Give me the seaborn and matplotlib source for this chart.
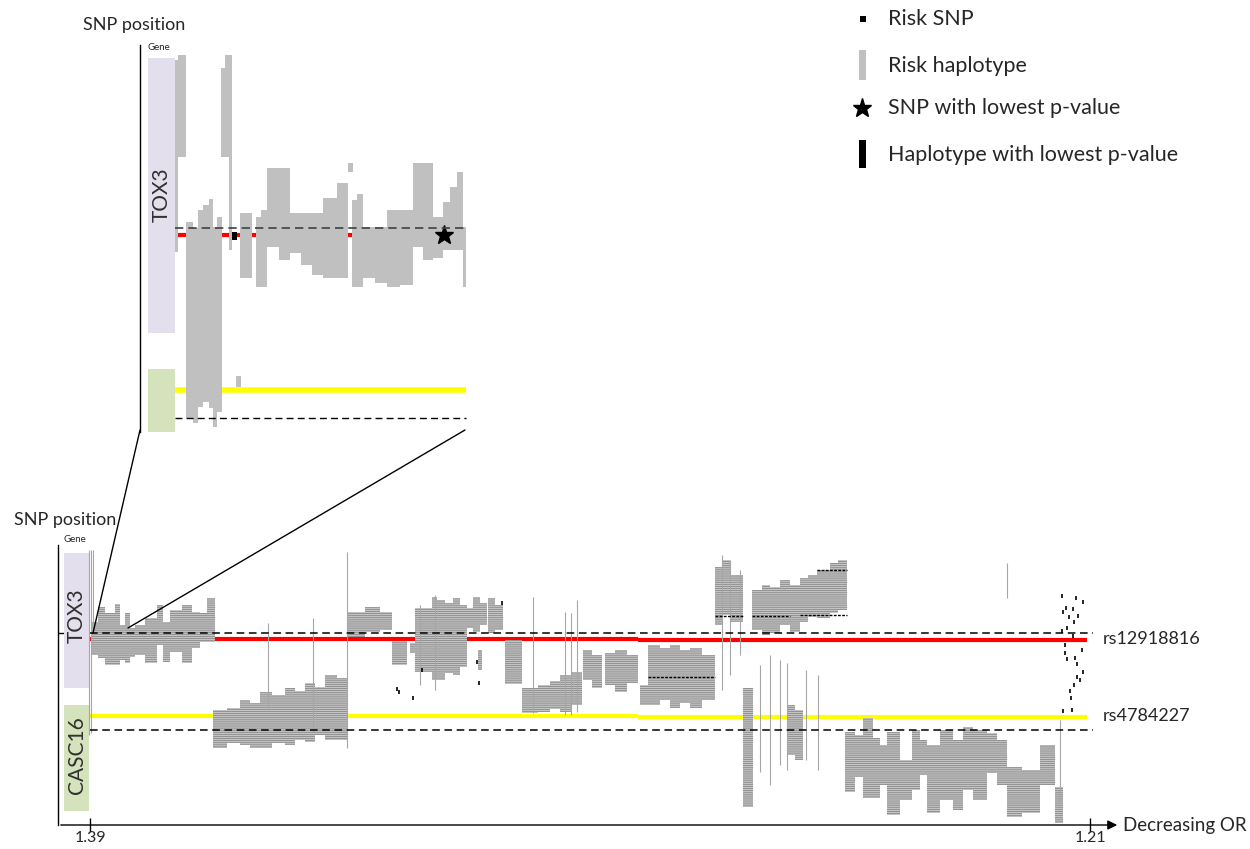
import numpy as np
import pandas as pd
import matplotlib
matplotlib.use('Agg')
import matplotlib.pyplot as plt
import seaborn as sns
from matplotlib.patches import Rectangle, ConnectionPatch

sns.set_theme(style='white')
plt.rcParams['font.family'] = ['Lato', 'DejaVu Sans']
plt.rcParams['hatch.linewidth'] = 0.6

# ---- main panel: haplotype blocks (rank of OR, SNP position range) ----
hap_x0 = [2, 8, 15, 25, 30, 35, 40, 45, 55, 67, 73, 80, 92, 102, 110, 117,
          123, 137, 150, 160, 170, 182, 195, 205, 215, 225, 235, 247,
          257, 275, 290, 302, 320, 325, 342, 347, 355, 363, 370, 377, 383, 390, 388, 398, 405,
          415, 432, 448, 460, 470, 481, 493, 502, 515, 525, 537, 550, 558, 570, 580, 590, 600, 612,
          625, 632, 640, 653, 662, 672, 680, 690, 700, 710, 718, 727, 740, 748, 698, 705,
          755, 765, 773, 783, 790, 797, 810, 822, 830, 837, 850, 863, 873, 883, 897, 907,
          917, 932, 950, 965]
hap_x1 = [8, 15, 25, 30, 35, 40, 45, 55, 67, 73, 80, 92, 102, 110, 117, 125,
          137, 150, 160, 170, 182, 195, 205, 215, 225, 235, 247, 257,
          275, 290, 302, 317, 325, 342, 347, 355, 363, 370, 377, 383, 390, 397, 392, 405, 413,
          432, 448, 460, 470, 481, 492, 502, 512, 525, 537, 548, 558, 570, 580, 590, 600, 612, 625,
          632, 640, 653, 663, 672, 680, 690, 700, 710, 718, 727, 740, 748, 757, 705, 713,
          765, 773, 783, 790, 797, 810, 822, 830, 837, 850, 863, 873, 883, 897, 907, 917,
          932, 950, 965, 973]
hap_top = [77, 62, 68, 59, 80, 68, 83, 80, 73, 60, 77, 65, 60, 67, 68, 53,
           165, 163, 155, 158, 147, 150, 143, 146, 138, 142, 130, 133,
           67, 62, 67, 96, 98, 63, 52, 55, 58, 53, 60, 63, 52, 58, 105, 53, 60,
           95, 143, 140, 136, 130, 127, 105, 110, 108, 105, 110, 140, 100, 103, 100, 105, 103, 110,
           22, 15, 30, 143, 45, 40, 42, 35, 40, 33, 30, 25, 18, 15, 160, 165,
           187, 190, 173, 193, 200, 187, 215, 185, 195, 200, 185, 195, 182, 185, 188, 195,
           222, 225, 200, 242]
hap_bot = [110, 113, 120, 120, 115, 118, 112, 110, 118, 100, 117, 107, 118, 103, 97, 97,
           203, 198, 200, 203, 203, 198, 200, 195, 197, 190, 195, 195,
           92, 87, 85, 120, 108, 127, 135, 135, 128, 130, 122, 83, 87, 80, 125, 88, 85,
           139, 168, 167, 164, 167, 160, 135, 143, 140, 147, 138, 160, 160, 155, 163, 158, 163, 155,
           80, 70, 77, 262, 85, 90, 88, 80, 87, 77, 72, 73, 68, 65, 210, 215,
           247, 232, 253, 253, 240, 270, 255, 245, 230, 268, 255, 265, 245, 255, 228, 240,
           272, 268, 240, 278]

# single long haplotypes drawn as thin lines
thin_x = [-1, 1, 3, 178, 223, 257, 330, 345, 443, 475, 481, 487, 632, 640, 650,
          670, 680, 690, 697, 716, 728, 917, 970]
thin_top = [5, 5, 5, 78, 73, 7, 60, 50, 52, 67, 68, 55, 10, 15, 25,
            120, 110, 115, 118, 125, 130, 18, 175]
thin_bot = [190, 188, 90, 163, 187, 203, 140, 145, 168, 170, 170, 167, 145, 130, 110,
            227, 240, 220, 225, 215, 225, 53, 255]

# risk SNPs (black marks)
snp_x = [307, 309, 323, 332, 387, 389, 412, 972, 986, 993, 976, 983, 973, 979, 988, 984,
         977, 972, 983, 975, 975, 977, 985, 992, 987, 993, 987, 990, 984, 980, 981, 982, 973]
snp_y = [144, 147, 153, 125, 117, 138, 58, 51, 53, 57, 63, 64, 67, 72, 71, 77,
         83, 86, 91, 100, 108, 114, 113, 105, 119, 127, 132, 135, 140, 146, 153, 165, 166]
stripe_x0 = [558, 625, 662, 710, 727]
stripe_x1 = [625, 653, 700, 757, 757]
stripe_y = [132, 71, 71, 70, 25]

# reference SNP lines
red_x = [0, 548, 997]
red_y = [93.5, 95]
yel_y = 171
dash_y = [88, 185]

# ---- zoomed inset ----
in_x0 = [0, 3, 11, 18, 23, 28, 34, 38, 42, 46, 50, 54, 61, 65, 81, 86, 92, 104,
         115, 126, 137, 148, 162, 173, 177, 182, 188, 200, 212, 225, 238, 248,
         258, 268, 275, 282, 288]
in_x1 = [3, 11, 18, 23, 28, 34, 38, 42, 47, 50, 54, 57, 66, 77, 86, 92, 104, 115,
         126, 137, 148, 162, 173, 178, 182, 188, 200, 212, 225, 238, 248, 258,
         268, 275, 282, 288, 291]
in_top = [15, 10, 177, 183, 165, 160, 154, 182, 172, 23, 10, 10, 331, 168, 172, 165, 123, 123,
          168, 168, 168, 153, 138, 118, 155, 149, 182, 182, 165, 165, 118, 118,
          172, 157, 142, 127, 182]
in_bot = [207, 112, 373, 378, 362, 357, 363, 382, 367, 112, 112, 205, 342, 233, 242, 242, 202, 215,
          208, 220, 230, 233, 233, 127, 242, 242, 233, 238, 242, 240, 202, 215,
          213, 205, 205, 205, 242]
in_red_y = 190
in_yel_y = 345
in_dash_y = [183, 373]
best_snp = (269, 190)
best_hap = (57, 62)

gray_face = '#c4c4c4'

fig = plt.figure(figsize=(12.5, 8.49), dpi=100)
W, H = 1250, 849

# ================= main panel =================
ax = fig.add_axes([58 / W, 1 - 825 / H, (1120 - 58) / W, 280 / H])
ax.set_xlim(-32, 1030)
ax.set_ylim(280, 0)
for s in ['top', 'right', 'bottom']:
    ax.spines[s].set_visible(False)
ax.spines['left'].set_color('black')
ax.spines['left'].set_linewidth(1)

ax.add_patch(Rectangle((-26, 8), 25, 135, facecolor='#e4dfec', edgecolor='none'))
ax.add_patch(Rectangle((-26, 160), 25, 106, facecolor='#d5e3bc', edgecolor='none'))
ax.text(-13.5, 71, 'TOX3', rotation=90, ha='center', va='center', fontsize=15, color='#303030')
ax.text(-13.5, 210, 'CASC16', rotation=90, ha='center', va='center', fontsize=15, color='#303030')
ax.text(-26, -1, 'Gene', fontsize=7, va='bottom', ha='left')

ax.hlines(red_y, red_x[:-1], red_x[1:], color='#ff0000', lw=3, zorder=1)
ax.hlines([yel_y, yel_y + 0.5], red_x[:-1], red_x[1:], color='#ffff00', lw=3, zorder=1)

ax.bar(hap_x0, np.array(hap_bot) - np.array(hap_top), bottom=hap_top,
       width=np.array(hap_x1) - np.array(hap_x0), align='edge',
       facecolor=gray_face, edgecolor='#8a8a8a', hatch='--------', linewidth=0, zorder=2)
ax.vlines(thin_x, thin_top, thin_bot, color='#a6a6a6', lw=0.8, zorder=2)
ax.hlines(stripe_y, stripe_x0, stripe_x1, color='black', lw=1, linestyles=(0, (2, 1)), zorder=3)
snp_df = pd.DataFrame({'rank': snp_x, 'pos': snp_y})
sns.scatterplot(data=snp_df, x='rank', y='pos', marker='|', s=12, color='black',
                linewidth=1.2, ax=ax, zorder=4, legend=False)

ax.hlines(dash_y, 0, 1003, color='black', lw=1.1, linestyles=(0, (5, 3)), zorder=5)
ax.text(1013, 94, 'rs12918816', va='center', ha='left', fontsize=13)
ax.text(1013, 171, 'rs4784227', va='center', ha='left', fontsize=13)

ax.annotate('', xy=(1030, 280), xytext=(-32, 280),
            arrowprops=dict(arrowstyle='-|>', color='black', lw=1, mutation_scale=14),
            annotation_clip=False)
ax.set_xticks([0, 1000])
ax.set_xticklabels(['1.39', '1.21'], fontsize=11.5)
ax.tick_params(axis='x', direction='inout', length=10, width=1, color='black', pad=-1, bottom=True)
ax.set_yticks([88])
ax.set_yticklabels([''])
ax.tick_params(axis='y', direction='in', length=4, width=1, color='black', left=True)
ax.set_xlabel('')
ax.set_ylabel('')
ax.text(1033, 280, 'Decreasing OR', va='center', ha='left', fontsize=13.5)
fig.text(14 / W, 1 - 520 / H, 'SNP position', va='center', ha='left', fontsize=13)

# ================= inset panel =================
ax_in = fig.add_axes([140 / W, 1 - 432 / H, 330 / W, 387 / H])
ax_in.set_xlim(-35, 295)
ax_in.set_ylim(387, 0)
for s in ['top', 'right', 'bottom']:
    ax_in.spines[s].set_visible(False)
ax_in.spines['left'].set_color('black')
ax_in.spines['left'].set_linewidth(1)
ax_in.set_xticks([])
ax_in.set_yticks([])
ax_in.patch.set_alpha(0)

ax_in.add_patch(Rectangle((-27, 13), 27, 275, facecolor='#e4dfec', edgecolor='none'))
ax_in.add_patch(Rectangle((-27, 324), 27, 63, facecolor='#d5e3bc', edgecolor='none'))
ax_in.text(-13.5, 150, 'TOX3', rotation=90, ha='center', va='center', fontsize=15, color='#303030')
ax_in.text(-27, 7, 'Gene', fontsize=7, va='bottom', ha='left')

ax_in.hlines(in_red_y, 0, 291, color='#ff0000', lw=3, zorder=1)
ax_in.hlines(in_yel_y, 0, 291, color='#ffff00', lw=4, zorder=1)
ax_in.bar(in_x0, np.array(in_bot) - np.array(in_top), bottom=in_top,
          width=np.array(in_x1) - np.array(in_x0), align='edge',
          color='#c0c0c0', linewidth=0, zorder=2)
ax_in.add_patch(Rectangle((best_hap[0], 187), best_hap[1] - best_hap[0], 8,
                          facecolor='black', edgecolor='none', zorder=3))
ax_in.plot([best_snp[0]], [best_snp[1]], marker='*', markersize=14, color='black', zorder=4)
ax_in.hlines(in_dash_y[0], 0, 291, color='#404040', lw=1.2, linestyles=(0, (5, 3)), zorder=5)
ax_in.hlines(in_dash_y[1], 0, 291, color='black', lw=1, linestyles=(0, (5, 3)), zorder=5)
fig.text(83 / W, 1 - 25 / H, 'SNP position', va='center', ha='left', fontsize=13)

# zoom connector lines
for a, b in [((-35, 385), (3, 88)), ((290, 385), (38, 83))]:
    con = ConnectionPatch(xyA=a, coordsA=ax_in.transData, xyB=b, coordsB=ax.transData,
                          color='black', lw=1)
    fig.add_artist(con)

# ================= legend =================
lg = fig.add_axes([840 / W, 1 - 180 / H, 410 / W, 180 / H])
lg.set_xlim(840, 1250)
lg.set_ylim(180, 0)
lg.axis('off')
lg.add_patch(Rectangle((860, 16), 6, 6, facecolor='black', edgecolor='none'))
lg.add_patch(Rectangle((859, 50), 7, 30, facecolor='#c0c0c0', edgecolor='none'))
lg.plot([862], [108], marker='*', markersize=14, color='black')
lg.add_patch(Rectangle((859, 140), 7, 28, facecolor='black', edgecolor='none'))
legend_labels = ['Risk SNP', 'Risk haplotype', 'SNP with lowest p-value', 'Haplotype with lowest p-value']
for lab, yy in zip(legend_labels, [19, 66, 108, 155]):
    lg.text(888, yy, lab, va='center', ha='left', fontsize=15.5)

fig.savefig('out.png', dpi=100)
